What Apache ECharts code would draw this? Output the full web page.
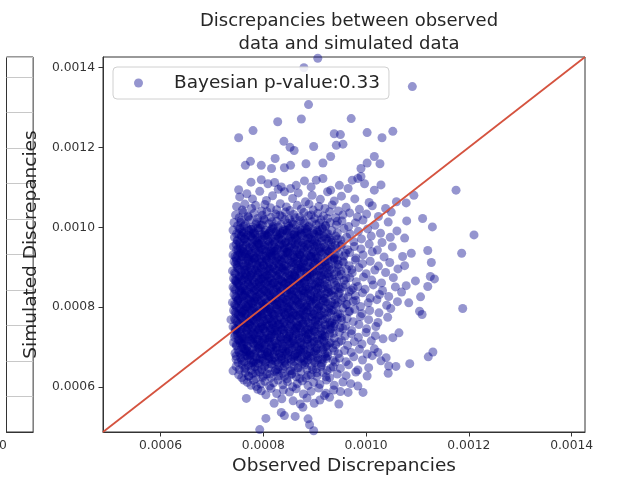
<!DOCTYPE html>
<html>
<head>
<meta charset="utf-8">
<script src="https://cdn.jsdelivr.net/npm/echarts@6/dist/echarts.min.js"></script>
<style>
html, body { margin: 0; padding: 0; background: #ffffff; }
#chart { width: 618px; height: 483px; }
</style>
</head>
<body>
<div id="chart"></div>
<script>
// Posterior predictive check: each point is one draw,
// [observed discrepancy, simulated discrepancy], stored in units of 1e-6.
const UNIT = 1e-6;
const discrepancyPairs = [
  // sparse upper tail
  [879,1399],[906,1423],[1090,1352],[888,1307],[828,1264],[874,1271],[971,1272],
  [780,1242],[752,1224],[938,1234],[950,1232],[1002,1237],[1052,1240],[1031,1224],[840,1215],[852,1200],[898,1202],[942,1205],[955,1208],
  [860,1192],[931,1177],[765,1155],[775,1165],[796,1155],[816,1147],[823,1172],[841,1149],[853,1155],[883,1159],[916,1161],[990,1147],[1002,1161],[1016,1177],[1027,1159],
  [984,1122],[990,1127],[776,1113],[796,1119],[809,1109],[835,1101],[864,1105],[893,1101],[903,1118],[916,1122],[948,1105],[965,1097],[997,1109],[1175,1093],
  [822,1112],[853,1097],[880,1116],[931,1093],[973,1118],[1029,1106],
  // right-hand tail
  [1110,1022],[1129,1001],[1079,1016],[1060,991],[1075,973],[1047,975],[1210,981],[1186,935],[1120,942],[1127,912],[1075,904],
  [1125,877],[1133,871],[1120,852],[1078,854],[1106,826],[1083,811],[1104,790],[1109,782],[1188,797],[1064,736],[1052,724],
  [1130,688],[1121,676],[1085,659],[1044,653],[1058,652],[1071,927],[1088,935],[1078,1061],[1093,1080],[1059,1064],[1016,1093],
  [1016,696],[1023,687],[1029,666],[1039,674],[1002,628],[1043,635],[984,603],[965,587],[994,587],
  // lower tail
  [741,641],[747,670],[751,662],[747,678],[745,685],[745,732],[737,769],[762,618],[776,605],[786,602],[789,595],[805,581],[767,572],
  [821,560],[805,522],[793,494],[835,537],[841,529],[862,527],[887,521],[890,506],[898,491],[872,558],[877,550],[899,560],[919,579],[929,575],[947,558],
  // main cloud, by simulated band
  [752,1094],[754,1076],[841,1089],[768,1084],[779,1071],[793,1090],[806,1067],[818,1079],[829,1095],[857,1072],[868,1086],[882,1064],[895,1080],[911,1070],[925,1089],[938,1066],[952,1078],[978,1071],[1006,1062],
  [748,1052],[759,1043],[764,1058],[777,1047],[785,1055],[797,1041],[803,1057],[814,1049],[826,1044],[833,1059],[845,1051],[852,1042],[866,1055],[874,1046],[889,1058],[897,1043],[908,1052],[920,1047],[934,1056],[946,1041],[961,1050],[987,1045],[1012,1054],[1038,1047],
  [746,1031],[753,1024],[761,1037],[770,1028],[782,1035],[789,1022],[798,1030],[807,1039],[815,1025],[824,1033],[836,1027],[843,1038],[851,1021],[859,1032],[871,1026],[879,1037],[888,1029],[900,1022],[906,1035],[917,1028],[929,1039],[941,1024],[955,1031],[968,1036],[983,1026],[1001,1033],[1024,1027],[1049,1038],
  [743,1012],[750,1004],[757,1017],[765,1008],[773,1019],[780,1001],[787,1013],[795,1006],[802,1018],[811,1009],[819,1002],[826,1015],[834,1007],[842,1019],[849,1003],[856,1012],[864,1005],[872,1017],[880,1010],[887,1001],[895,1014],[903,1007],[912,1019],[921,1003],[930,1012],[942,1006],[953,1016],[966,1002],[979,1011],[994,1018],[1017,1005],[1043,1013],
  [741,993],[748,984],[755,997],[762,988],[769,981],[776,995],[783,986],[790,999],[797,982],[804,992],[811,985],[818,998],[825,989],[832,981],[839,994],[846,987],[853,999],[860,983],[867,991],[874,986],[882,997],[890,982],[898,993],[906,988],[915,999],[923,984],[933,992],[944,986],[957,997],[969,983],[985,990],[1003,996],[1028,985],
  [744,975],[750,966],[757,979],[763,970],[770,962],[776,977],[783,968],[789,974],[796,961],[802,979],[809,967],[815,972],[822,963],[829,976],[835,969],[842,961],[848,978],[855,966],[862,973],[868,962],[876,979],[883,968],[891,974],[899,963],[907,977],[914,966],[923,971],[932,962],[941,978],[951,968],[962,975],[976,964],[991,971],[1010,978],[1031,962],
  [742,952],[748,944],[754,958],[760,947],[766,955],[772,941],[778,953],[784,946],[790,959],[797,943],[803,951],[809,957],[816,942],[822,950],[828,945],[835,958],[841,948],[847,941],[854,954],[860,946],[867,959],[873,943],[880,951],[887,957],[894,944],[901,952],[909,947],[917,959],[925,942],[934,953],[943,948],[953,957],[964,944],[977,952],[990,946],[1006,958],[1022,943],[1051,951],
  [741,931],[747,923],[752,938],[758,927],[764,934],[770,921],[776,936],[781,929],[787,924],[793,939],[799,930],[805,922],[811,935],[817,928],[823,940],[829,925],[835,933],[841,921],[847,937],[853,929],[859,924],[866,938],[872,931],[878,922],[885,935],[892,927],[899,939],[906,924],[913,932],[921,926],[929,938],[938,921],[947,934],[957,928],[968,937],[980,923],[994,931],[1012,939],[1035,926],
  [743,914],[749,905],[755,918],[760,909],[766,901],[772,915],[777,907],[783,919],[789,903],[794,912],[800,906],[806,917],[812,910],[818,902],[824,916],[830,908],[836,913],[842,904],[848,919],[854,911],[860,903],[866,915],[872,908],[879,918],[885,901],[892,912],[898,906],[905,919],[912,909],[920,914],[928,902],[937,917],[946,907],[956,913],[967,904],[979,918],[993,909],[1008,915],[1024,903],[1046,912],
  [740,891],[746,883],[751,897],[757,888],[763,894],[768,881],[774,899],[779,886],[785,892],[791,884],[796,898],[802,889],[808,881],[813,895],[819,887],[825,893],[831,882],[836,899],[842,890],[848,885],[854,896],[860,881],[866,892],[872,887],[878,899],[884,883],[891,894],[897,888],[904,881],[911,897],[918,890],[926,884],[934,896],[943,888],[952,882],[962,895],[973,886],[986,899],[1000,884],[1017,893],[1038,887],[1062,896],
  [742,872],[747,864],[753,878],[758,867],[764,874],[770,861],[775,879],[781,868],[786,875],[792,862],[797,871],[803,877],[809,865],[814,873],[820,861],[826,879],[831,869],[837,864],[843,876],[849,862],[855,871],[861,878],[867,866],[873,873],[879,861],[886,877],[892,868],[899,874],[906,863],[913,879],[921,869],[929,875],[938,862],[947,878],[957,867],[968,874],[981,864],[995,876],[1011,868],[1030,861],[1053,874],[1096,866],
  [741,851],[746,843],[752,858],[757,847],[763,855],[768,841],[774,852],[779,859],[785,844],[790,850],[796,857],[801,842],[807,853],[812,848],[818,859],[824,845],[829,854],[835,841],[841,857],[846,849],[852,843],[858,856],[864,847],[870,859],[876,842],[882,851],[888,846],[895,858],[902,844],[909,853],[916,848],[924,859],[932,841],[941,855],[950,846],[960,857],[971,843],[984,852],[998,845],[1014,856],[1032,842],[1057,851],
  [743,832],[748,824],[753,838],[759,827],[764,835],[770,821],[775,833],[781,839],[786,825],[792,831],[797,837],[803,822],[808,834],[814,828],[820,839],[825,824],[831,832],[837,821],[843,836],[849,827],[855,833],[861,822],[867,838],[873,829],[879,835],[885,823],[892,831],[898,839],[905,826],[912,834],[920,822],[928,837],[937,828],[946,833],[956,824],[967,839],[979,829],[993,836],[1008,823],[1026,832],[1044,827],[1069,838],
  [740,812],[746,804],[751,818],[757,807],[762,815],[768,801],[773,819],[779,809],[784,814],[790,803],[795,817],[801,808],[806,813],[812,802],[818,819],[823,806],[829,815],[835,809],[840,801],[846,818],[852,811],[858,804],[864,816],[870,807],[876,813],[882,802],[889,819],[895,808],[902,815],[909,803],[917,817],[925,809],[933,812],[942,804],[952,818],[963,807],[975,815],[989,802],[1004,811],[1021,819],[1040,805],[1061,814],
  [742,792],[747,784],[753,797],[758,788],[764,795],[769,781],[775,793],[780,799],[786,786],[791,791],[797,783],[802,798],[808,789],[813,794],[819,782],[825,797],[830,787],[836,793],[842,781],[848,799],[854,790],[860,785],[866,796],[872,782],[878,792],[884,788],[891,799],[897,784],[904,794],[911,781],[919,797],[927,788],[936,793],[945,783],[955,798],[966,789],[978,795],[992,784],[1007,792],[1025,786],[1048,797],
  [744,771],[749,763],[755,777],[760,766],[766,774],[771,761],[777,779],[782,768],[788,773],[793,762],[799,776],[804,767],[810,771],[816,764],[821,778],[827,769],[833,775],[839,761],[845,772],[851,766],[857,779],[863,763],[869,774],[875,768],[881,777],[887,762],[894,771],[901,765],[908,778],[916,769],[924,774],[933,761],[942,776],[952,767],[963,772],[975,764],[989,777],[1005,769],[1023,762],[1042,775],
  [741,751],[746,743],[752,757],[757,746],[763,754],[768,741],[774,759],[779,748],[785,752],[790,744],[796,758],[801,747],[807,753],[813,742],[818,756],[824,749],[830,759],[836,744],[842,751],[848,746],[854,757],[860,742],[866,753],[872,748],[878,759],[885,745],[891,752],[898,741],[905,756],[913,748],[921,754],[930,743],[939,758],[949,749],[960,753],[972,742],[986,757],[1001,746],[1019,752],
  [750,728],[755,737],[761,722],[766,733],[772,726],[777,739],[783,731],[788,721],[794,735],[799,727],[805,738],[811,723],[816,732],[822,729],[828,740],[834,724],[840,734],[846,721],[852,737],[858,728],[864,733],[870,722],[876,739],[883,726],[890,735],[897,729],[904,721],[912,736],[920,727],[929,733],[938,723],[948,738],[959,728],[971,734],[985,725],[1000,737],[1018,729],[1033,721],
  [742,712],[748,703],[753,717],[759,707],[764,714],[770,701],[776,719],[781,709],[787,713],[793,704],[798,718],[804,706],[810,712],[816,702],[822,716],[828,708],[834,719],[840,703],[846,714],[852,709],[858,717],[865,702],[871,711],[877,706],[884,718],[891,704],[898,713],[906,708],[914,719],[922,701],[931,712],[941,706],[952,717],[964,705],[977,714],[992,708],[1010,716],
  [751,693],[756,682],[762,697],[767,688],[773,681],[779,694],[784,686],[790,699],[796,683],[802,691],[808,687],[814,698],[820,681],[826,692],[832,685],[838,697],[844,683],[850,690],[857,699],[863,684],[870,693],[877,687],[884,681],[891,696],[899,689],[907,682],[916,694],[925,686],[935,698],[946,684],[958,692],[971,687],[987,695],[1002,683],
  [756,673],[762,664],[768,679],[774,668],[780,661],[786,676],[792,667],[798,672],[804,663],[810,678],[816,669],[822,674],[829,661],[835,677],[841,666],[848,672],[854,663],[861,679],[868,668],[875,674],[882,662],[890,677],[898,666],[906,673],[915,661],[925,678],[936,667],[948,673],[961,664],[976,676],[993,668],[1012,679],
  [747,652],[753,644],[759,657],[765,648],[771,655],[777,642],[784,651],[790,659],[797,645],[803,654],[810,647],[817,658],[824,643],[831,652],[838,646],[845,657],[852,641],[860,653],[868,648],[876,659],[885,644],[894,652],[903,646],[913,657],[924,642],[936,651],[950,647],[966,656],[984,643],[1005,649],
  [752,631],[758,624],[765,637],[772,627],[779,634],[786,622],[793,638],[800,629],[807,633],[815,624],[822,639],[830,628],[838,635],[846,621],[855,632],[864,626],[873,638],[883,623],[893,631],[904,627],[916,637],[929,624],[944,633],[961,629],[980,638],
  [769,612],[781,617],[795,608],[803,615],[812,603],[820,611],[829,618],[838,606],[847,614],[857,601],[866,609],[876,616],[887,604],[898,612],[910,607],[923,618],[938,605],[955,613],[970,609],
  [796,591],[815,597],[826,584],[839,593],[851,588],[864,596],[878,583],[893,590],[908,598],[922,585],[937,593],[950,589],
  [836,571],[858,566],[885,573],[910,568],
  // dense centre of the cloud
  [756,1012],[771,1026],[786,1008],[801,1021],[817,1014],[832,1030],[847,1010],[862,1024],[878,1016],[893,1031],[909,1011],[925,1022],[944,1015],
  [753,996],[761,985],[772,992],[784,981],[794,998],[803,987],[815,994],[827,983],[838,990],[850,997],[862,988],[873,982],[885,995],[897,986],[910,991],[926,984],
  [749,968],[758,977],[767,964],[779,973],[788,961],[799,970],[808,978],[819,965],[831,972],[844,963],[853,976],[865,969],[877,961],[888,975],[900,967],[912,973],[927,965],[945,971],
  [751,946],[761,955],[769,942],[781,951],[792,958],[800,945],[811,952],[820,941],[832,955],[844,947],[856,959],[864,942],[875,954],[886,948],[897,958],[908,941],[919,951],[932,945],[950,953],
  [745,927],[755,936],[766,924],[774,932],[785,938],[796,921],[806,929],[815,936],[826,922],[838,931],[850,939],[861,926],[870,934],[882,924],[893,933],[903,928],[915,937],[926,923],[940,930],[960,935],
  [746,909],[757,917],[768,903],[779,912],[790,918],[801,904],[811,913],[821,907],[833,918],[845,902],[857,912],[869,906],[880,916],[890,903],[901,911],[914,905],[925,917],[939,908],[954,915],
  [744,886],[754,895],[765,884],[777,892],[788,898],[799,882],[810,891],[821,897],[833,886],[845,893],[857,883],[868,897],[879,890],[890,884],[902,893],[913,887],[924,898],[937,882],[951,891],[972,894],
  [745,867],[756,876],[767,863],[778,871],[789,879],[800,866],[811,874],[822,862],[834,870],[846,878],[857,864],[869,872],[880,867],[891,875],[903,861],[915,870],[928,877],[943,865],[961,873],
  [743,846],[754,854],[765,843],[776,849],[787,858],[798,846],[809,855],[820,844],[832,852],[843,860],[854,847],[866,854],[878,842],[889,850],[900,857],[912,845],[925,852],[939,843],[955,851],[975,848],
  [746,827],[757,836],[768,823],[779,830],[790,839],[801,826],[812,834],[823,821],[834,829],[846,837],[858,825],[869,832],[881,840],[893,827],[905,835],[918,823],[932,831],[948,837],[965,826],
  [744,807],[755,816],[766,803],[777,811],[788,819],[799,805],[810,813],[821,801],[832,810],[844,818],[855,806],[867,813],[879,802],[891,816],[903,809],[916,815],[930,804],[945,812],[961,807],[980,817],
  [745,788],[756,796],[767,783],[778,791],[789,799],[800,786],[811,794],[822,782],[834,790],[846,798],[857,785],[869,793],[881,781],[893,789],[906,797],[919,786],[933,792],[949,784],[968,790],
  [746,767],[757,775],[768,762],[779,770],[790,778],[801,765],[812,773],[823,761],[835,769],[847,777],[859,764],[871,772],[883,767],[895,776],[907,763],[920,771],[935,766],[952,774],
  [745,747],[756,755],[767,743],[778,751],[789,759],[800,746],[811,754],[822,742],[834,750],[846,758],[858,745],[870,753],[882,741],[894,749],[907,757],[921,745],[937,752],[955,747],
  [744,725],[755,733],[766,721],[777,729],[788,737],[799,724],[810,731],[821,739],[833,726],[845,734],[857,722],[869,730],[881,738],[893,725],[906,732],[920,728],[936,735],
  [747,706],[758,714],[769,703],[780,711],[791,718],[802,705],[813,713],[825,701],[837,709],[849,716],[861,704],[873,712],[886,707],[899,715],[913,702],[929,710],[947,713],
  [753,687],[764,695],[775,684],[786,692],[797,699],[808,686],[819,694],[831,682],[843,690],[855,697],[867,685],[879,693],[892,688],[905,696],[920,683],[938,691],
  [758,667],[770,675],[782,664],[794,672],[806,679],[818,666],[830,674],[842,662],[854,670],[866,677],[879,665],[892,673],[906,668],[921,676],[940,663],
  [763,646],[776,654],[789,643],[802,651],[815,658],[828,645],[841,653],[854,641],[867,649],[881,656],[896,644],[912,652],[931,647],
  [771,628],[785,636],[799,625],[813,633],[827,639],[841,627],[856,634],[871,622],[887,630],[904,636],[922,626],
  // densest core
  [758,989],[769,998],[780,984],[791,993],[805,981],[820,996],[833,986],[846,993],[859,981],[871,997],[884,989],[899,983],[915,996],
  [754,962],[764,971],[775,979],[786,966],[797,975],[812,963],[825,979],[837,967],[850,973],[861,980],[872,965],[886,972],[903,961],[918,977],[934,968],
  [747,957],[757,941],[773,949],[787,956],[795,948],[806,940],[818,957],[828,949],[840,943],[851,951],[862,957],[879,945],[891,953],[905,957],[922,946],[940,955],
  [750,930],[761,938],[771,926],[782,922],[791,935],[802,927],[813,939],[823,930],[835,924],[844,937],[857,932],[868,921],[877,938],[889,929],[900,923],[911,939],[931,928],
  [752,911],[763,903],[774,919],[786,907],[797,914],[808,900],[817,919],[827,911],[839,904],[851,916],[863,909],[875,901],[887,913],[896,919],[908,904],[921,911],[944,918],
  [749,899],[759,881],[771,889],[782,896],[793,888],[805,895],[816,883],[828,890],[839,897],[851,881],[862,889],[874,894],[885,887],[896,899],[908,891],[920,882],[946,899],
  [751,862],[762,869],[773,876],[783,863],[795,870],[806,879],[817,867],[828,874],[840,861],[852,869],[863,876],[875,863],[886,871],[897,879],[909,866],[934,871],
  [749,859],[760,848],[771,857],[782,842],[793,853],[804,859],[815,841],[826,856],[838,846],[849,853],[860,841],[872,858],[883,845],[894,853],[906,848],[919,856],[946,850],
  [752,821],[762,829],[773,837],[784,822],[795,833],[806,839],[817,825],[829,835],[840,822],[852,831],[864,839],[875,824],[887,834],[899,821],[911,829],[925,838],
  [750,816],[761,808],[771,801],[782,817],[794,809],[805,803],[816,818],[827,807],[838,815],[850,803],[861,818],[873,810],[885,805],[897,819],[908,801],[922,814],[939,808],
  [751,783],[762,791],[773,798],[784,781],[795,790],[806,797],[817,785],[828,795],[840,787],[851,794],[863,781],[875,798],[887,793],[899,782],[913,791],[927,797],
  [752,779],[763,762],[774,772],[785,765],[796,779],[807,770],[818,760],[830,776],[841,764],[853,772],[865,779],[877,761],[889,775],[902,768],[914,779],[929,763],
  [751,741],[762,749],[773,756],[784,743],[795,750],[806,759],[817,746],[829,756],[840,742],[852,752],[864,748],[876,757],[888,744],[901,752],[915,740],[930,755],
  [749,736],[760,726],[771,734],[782,722],[793,730],[804,740],[815,725],[827,737],[839,720],[851,731],[863,739],[875,724],[887,732],[900,739],[915,723],
  [751,719],[763,708],[775,715],[786,701],[797,711],[808,719],[819,706],[831,716],[843,702],[855,712],[867,718],[880,703],[894,710],[909,717],[924,705],
  [758,699],[770,690],[781,682],[792,697],[803,683],[814,690],[826,699],[837,686],[849,694],[861,681],[874,697],[887,684],[902,692],[917,698],
  [764,678],[776,662],[788,671],[800,666],[812,675],[824,664],[836,671],[848,679],[860,665],[873,671],[886,678],[900,662],[915,670],
  // innermost draws
  [762,1003],[777,995],[798,1006],[813,989],[829,1001],[843,992],[858,1008],[874,994],[889,1003],[905,992],[921,1005],
  [752,983],[766,976],[781,987],[793,968],[809,982],[823,970],[836,985],[849,966],[866,978],[881,986],[894,970],[909,982],[929,974],
  [755,948],[767,934],[778,959],[790,941],[803,955],[814,932],[826,944],[839,956],[848,935],[860,949],[871,931],[884,957],[897,938],[912,950],[928,940],
  [748,917],[759,928],[771,911],[784,924],[794,903],[807,919],[819,929],[830,902],[842,923],[855,906],[866,925],[878,911],[893,927],[907,913],[922,904],[938,924],
  [753,876],[765,893],[776,881],[789,886],[801,873],[812,897],[824,879],[837,893],[848,872],[861,885],[873,899],[884,876],[897,890],[912,876],[929,893],
  [747,866],[758,841],[770,869],[781,850],[792,864],[803,846],[814,861],[827,849],[836,866],[848,844],[859,862],[871,848],[882,863],[895,842],[910,861],[926,847],
  [754,842],[765,830],[776,815],[788,826],[799,811],[810,828],[821,815],[833,838],[845,812],[856,829],[868,818],[880,826],[892,812],[905,824],[921,834],[940,819],
  [748,799],[759,786],[771,808],[782,795],[793,783],[804,801],[815,788],[826,806],[838,796],[849,785],[861,803],[872,789],[885,800],[898,791],[912,805],[931,785],
  [753,760],[764,783],[775,765],[787,776],[798,754],[809,780],[820,768],[832,757],[843,781],[855,770],[867,755],[878,781],[891,760],[905,774],[920,757],[944,770],
  [747,745],[758,721],[770,748],[781,733],[792,745],[803,720],[814,747],[826,733],[838,744],[850,727],[862,749],[874,735],[886,721],[899,744],[914,731],[932,746],
  [755,710],[767,694],[779,720],[790,706],[802,696],[813,723],[825,710],[837,696],[849,724],[861,708],[873,694],[886,720],[901,699],[918,715],
  [761,688],[774,680],[786,660],[798,684],[810,671],[822,689],[834,667],[847,686],[859,675],[872,690],[886,668],[903,684],[923,672]
];

// Shared range of both axes (observed and simulated), and tick positions
const axisRange = [0.000488, 0.001426];
const tickValues = [0.0006, 0.0008, 0.0010, 0.0012, 0.0014];

const chartTitle = 'Discrepancies between observed\ndata and simulated data';
const xAxisTitle = 'Observed Discrepancies';
const yAxisTitle = 'Simulated Discrepancies';
const legendLabel = 'Bayesian p-value:0.33';

// Neighbouring panel on the left edge (only its right border is visible)
const neighbourTickLabel = '0';

const FONT = 'DejaVu Sans';
const INK = '#262626';

const scatterData = discrepancyPairs.map(p => [p[0] * UNIT, p[1] * UNIT]);
const identityLine = [[axisRange[0], axisRange[0]], [axisRange[1], axisRange[1]]];

const chart = echarts.init(document.getElementById('chart'), null, { renderer: 'canvas' });

const valueAxisCommon = {
  type: 'value',
  min: axisRange[0],
  max: axisRange[1],
  scale: true,
  nameLocation: 'middle',
  nameTextStyle: { fontFamily: FONT, fontSize: 18.5, color: INK },
  axisLine: { show: true, onZero: false, lineStyle: { color: '#333', width: 1 } },
  axisTick: { show: true, length: 4.5, lineStyle: { color: '#333', width: 1 }, customValues: tickValues },
  axisLabel: {
    fontFamily: FONT, fontSize: 12.3, color: '#333', margin: 8,
    customValues: tickValues,
    formatter: v => v.toFixed(4)
  },
  splitLine: { show: false }
};

chart.setOption({
  animation: false,
  backgroundColor: '#ffffff',
  title: {
    text: chartTitle,
    left: 344,
    top: 5,
    textAlign: 'center',
    textStyle: { fontFamily: FONT, fontSize: 18, fontWeight: 'normal', color: INK, lineHeight: 23 }
  },
  legend: {
    data: [legendLabel],
    left: 113,
    top: 67,
    orient: 'vertical',
    icon: 'circle',
    itemWidth: 9,
    itemHeight: 9,
    padding: [5, 9, 5, 21],
    backgroundColor: 'rgba(255,255,255,0.85)',
    borderColor: '#d0d0d0',
    borderWidth: 1,
    borderRadius: 4,
    textStyle: { fontFamily: FONT, fontSize: 18.5, color: INK, lineHeight: 22, padding: [0, 0, 0, 26] }
  },
  grid: [
    { left: 103, top: 57, width: 482, height: 375, show: true, borderColor: '#333', borderWidth: 1, containLabel: false },
    { left: -100, top: 57, width: 106.5, height: 375, show: true, borderColor: '#333', borderWidth: 1, containLabel: false }
  ],
  xAxis: [
    Object.assign({}, valueAxisCommon, { gridIndex: 0, name: xAxisTitle, nameGap: 25 }),
    { type: 'value', gridIndex: 1, min: 0, max: 1, axisLabel: { show: false }, axisTick: { show: false }, splitLine: { show: false },
      axisLine: { lineStyle: { color: '#333' } } }
  ],
  yAxis: [
    Object.assign({}, valueAxisCommon, { gridIndex: 0, name: yAxisTitle, nameGap: 55 }),
    { type: 'value', gridIndex: 1, min: 0, max: 10.56, interval: 1, axisLabel: { show: false }, axisTick: { show: false },
      axisLine: { show: false }, splitLine: { show: true, lineStyle: { color: '#c8c8c8', width: 1 } } }
  ],
  graphic: [
    { type: 'text', left: -1, top: 440, style: { text: neighbourTickLabel, font: '12.3px "DejaVu Sans"', fill: '#333' } }
  ],
  series: [
    {
      name: legendLabel,
      type: 'scatter',
      xAxisIndex: 0,
      yAxisIndex: 0,
      data: scatterData,
      symbol: 'circle',
      symbolSize: 9,
      large: false,
      progressive: 0,
      itemStyle: { color: 'rgba(0, 0, 139, 0.52)' },
      emphasis: { disabled: true },
      z: 2
    },
    {
      name: 'identity',
      type: 'line',
      xAxisIndex: 0,
      yAxisIndex: 0,
      data: identityLine,
      symbol: 'none',
      lineStyle: { color: '#d5533f', width: 1.8 },
      emphasis: { disabled: true },
      z: 3
    }
  ]
});
</script>
</body>
</html>
